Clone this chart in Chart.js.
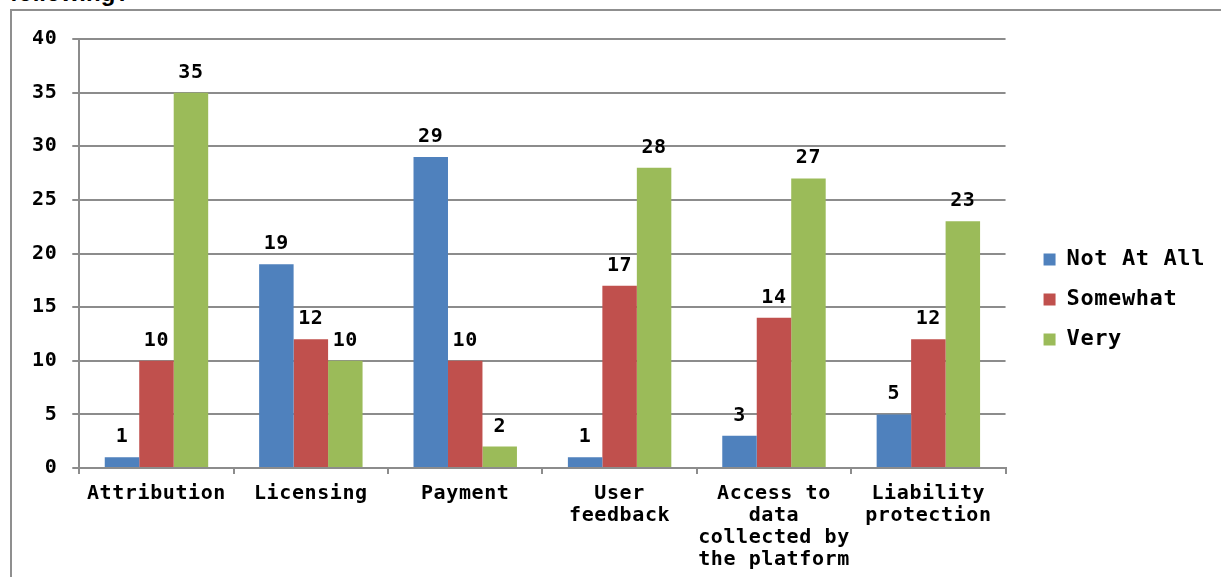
<!DOCTYPE html>
<html>
<head>
<meta charset="utf-8">
<script src="https://cdn.jsdelivr.net/npm/chart.js@4/dist/chart.umd.min.js"></script>
<style>
  html, body { margin: 0; padding: 0; background: #fff; overflow: hidden; }
  #wrap { position: relative; width: 1221px; height: 577px; }
  #frame { position: absolute; left: 10px; top: 9px; width: 1300px; height: 700px; border: 2px solid #8f8f8f; box-sizing: border-box; }
  #title { position: absolute; left: 10px; top: -19px; font: bold 24px "Liberation Sans", Arial, sans-serif; line-height: 24px; color: #000; white-space: nowrap; }
  canvas { position: absolute; left: 0; top: 0; }
</style>
</head>
<body>
<div id="wrap">
  <div id="title">following?</div>
  <div id="frame"></div>
  <canvas id="c" width="1221" height="577"></canvas>
</div>
<script>
const categories = ['Attribution', 'Licensing', 'Payment', ['User', 'feedback'], ['Access to', 'data', 'collected by', 'the platform'], ['Liability', 'protection']];
const seriesNames = ['Not At All', 'Somewhat', 'Very'];
const notAtAll = [1, 19, 29, 1, 3, 5];
const somewhat = [10, 12, 10, 17, 14, 12];
const very = [35, 10, 2, 28, 27, 23];
const seriesColors = ['#4F81BD', '#C0504D', '#9BBB59'];
const yTicks = [0, 5, 10, 15, 20, 25, 30, 35, 40];

const FONT = '"DejaVu Sans Mono", "Liberation Mono", monospace';
const LETTER_SPACING = '0.6px';
const LEGEND_DX = 20;
const LEGEND_DY = -10;

const canvas = document.getElementById('c');

const spacing = {
  id: 'spacing',
  afterInit(chart) { chart.ctx.letterSpacing = LETTER_SPACING; },
  beforeUpdate(chart) { chart.ctx.letterSpacing = LETTER_SPACING; },
  beforeDraw(chart) { chart.ctx.letterSpacing = LETTER_SPACING; }
};

const valueLabels = {
  id: 'valueLabels',
  afterDatasetsDraw(chart) {
    const ctx = chart.ctx;
    ctx.save();
    ctx.letterSpacing = LETTER_SPACING;
    ctx.font = 'bold 20px ' + FONT;
    ctx.fillStyle = '#000';
    ctx.textAlign = 'center';
    ctx.textBaseline = 'alphabetic';
    chart.data.datasets.forEach((ds, i) => {
      const meta = chart.getDatasetMeta(i);
      meta.data.forEach((bar, j) => {
        ctx.fillText(String(ds.data[j]), bar.x, bar.y - 15);
      });
    });
    ctx.restore();
  }
};

const legendShift = {
  id: 'legendShift',
  afterLayout(chart) {
    const l = chart.legend;
    if (!l) return;
    l.left += LEGEND_DX; l.right += LEGEND_DX;
    l.top += LEGEND_DY; l.bottom += LEGEND_DY;
  }
};

new Chart(canvas, {
  type: 'bar',
  data: {
    labels: categories,
    datasets: [
      { label: seriesNames[0], data: notAtAll, backgroundColor: seriesColors[0] },
      { label: seriesNames[1], data: somewhat, backgroundColor: seriesColors[1] },
      { label: seriesNames[2], data: very, backgroundColor: seriesColors[2] }
    ]
  },
  options: {
    responsive: false,
    animation: false,
    devicePixelRatio: 1,
    layout: { padding: { left: 17, top: 39, right: 26, bottom: -3 } },
    datasets: { bar: { barPercentage: 1.0, categoryPercentage: 0.67, borderWidth: 0 } },
    scales: {
      x: {
        grid: { offset: true, drawOnChartArea: false, drawTicks: true, tickLength: 6, color: '#8c8c8c', lineWidth: 2 },
        border: { color: '#8c8c8c', width: 2 },
        ticks: { color: '#000', font: { family: FONT, size: 20, weight: 'bold', lineHeight: 1.1 }, padding: 9, maxRotation: 0, autoSkip: false }
      },
      y: {
        min: 0, max: 40,
        afterBuildTicks(scale) { scale.ticks = yTicks.map(v => ({ value: v })); },
        grid: { color: '#8c8c8c', lineWidth: 2, tickLength: 7 },
        border: { color: '#8c8c8c', width: 2 },
        ticks: { color: '#000', font: { family: FONT, size: 20, weight: 'bold' }, padding: 15 }
      }
    },
    plugins: {
      tooltip: { enabled: false },
      legend: {
        position: 'right',
        labels: { boxWidth: 12, boxHeight: 12, padding: 18, color: '#000', font: { family: FONT, size: 22, weight: 'bold' } }
      }
    }
  },
  plugins: [spacing, valueLabels, legendShift]
});
</script>
</body>
</html>
